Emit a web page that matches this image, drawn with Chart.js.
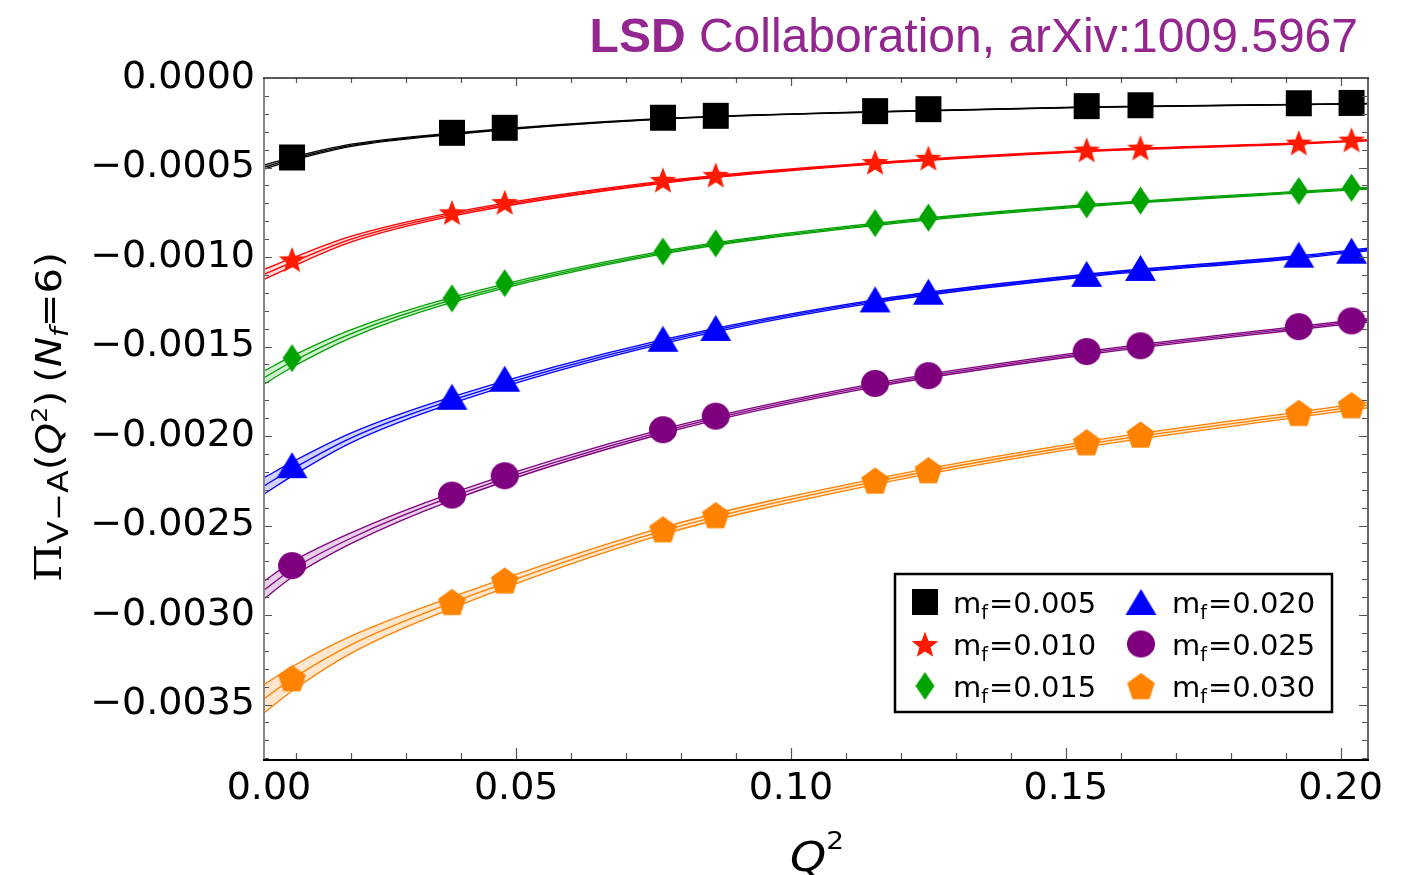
<!DOCTYPE html>
<html>
<head>
<meta charset="utf-8">
<script src="https://cdn.jsdelivr.net/npm/chart.js@4.4.1/dist/chart.umd.min.js"></script>
<style>
  html, body { margin: 0; padding: 0; background: #fff; }
  #wrap { position: relative; width: 1408px; height: 875px; }
</style>
</head>
<body>
<div id="wrap"><canvas id="chart"></canvas></div>
<script>
// Q^2 of the lattice data points (same for every mass)
const q2 = [0.0092, 0.0383, 0.0479, 0.0767, 0.0863, 0.1153, 0.1250, 0.1538, 0.1636, 0.1924, 0.2020]

// Pi_{V-A}(Q^2) data, one array per fermion mass
const mf005 = [-0.000444, -0.000306, -0.000278, -0.000222, -0.000211, -0.000185, -0.000174, -0.000157, -0.000152, -0.000141, -0.000139]
const mf010 = [-0.001013, -0.000750, -0.000693, -0.000569, -0.000541, -0.000469, -0.000446, -0.000400, -0.000389, -0.000361, -0.000344]
const mf015 = [-0.001565, -0.001231, -0.001146, -0.000969, -0.000924, -0.000811, -0.000780, -0.000706, -0.000685, -0.000631, -0.000613]
const mf020 = [-0.002163, -0.001781, -0.001680, -0.001457, -0.001396, -0.001237, -0.001194, -0.001094, -0.001061, -0.000987, -0.000965]
const mf025 = [-0.002724, -0.002330, -0.002222, -0.001965, -0.001889, -0.001706, -0.001663, -0.001528, -0.001496, -0.001389, -0.001357]
const mf030 = [-0.003352, -0.002926, -0.002806, -0.002520, -0.002441, -0.002248, -0.002190, -0.002034, -0.001991, -0.001870, -0.001827]

// fit curves at these Q^2 knots (centre and half width of the band)
const fitQ2 = [0.0041, 0.0092, 0.0200, 0.0383, 0.0767, 0.1153, 0.1537, 0.1924, 0.2050]
const fit005 = [-0.000498, -0.000452, -0.000376, -0.000312, -0.000228, -0.000189, -0.000163, -0.000148, -0.000143]
const fit010 = [-0.001097, -0.001030, -0.000900, -0.000762, -0.000582, -0.000477, -0.000408, -0.000366, -0.000348]
const fit015 = [-0.001674, -0.001585, -0.001428, -0.001240, -0.000975, -0.000818, -0.000713, -0.000638, -0.000616]
const fit020 = [-0.002279, -0.002185, -0.002010, -0.001800, -0.001473, -0.001247, -0.001104, -0.001000, -0.000958]
const fit025 = [-0.002860, -0.002746, -0.002570, -0.002339, -0.001974, -0.001716, -0.001537, -0.001396, -0.001354]
const fit030 = [-0.003468, -0.003357, -0.003165, -0.002931, -0.002530, -0.002255, -0.002046, -0.001880, -0.001827]
const hw005 = [0.000011, 0.000009, 0.000006, 0.000004, 0.000002, 0.000001, 0.000001, 0.000001, 0.000001]
const hw010 = [0.000028, 0.000024, 0.000016, 0.000010, 0.000006, 0.000004, 0.000003, 0.000003, 0.000003]
const hw015 = [0.000037, 0.000031, 0.000022, 0.000014, 0.000008, 0.000006, 0.000005, 0.000005, 0.000005]
const hw020 = [0.000046, 0.000039, 0.000027, 0.000018, 0.000011, 0.000008, 0.000007, 0.000007, 0.000007]
const hw025 = [0.000050, 0.000043, 0.000030, 0.000020, 0.000012, 0.000010, 0.000009, 0.000009, 0.000009]
const hw030 = [0.000080, 0.000068, 0.000048, 0.000032, 0.000020, 0.000016, 0.000015, 0.000015, 0.000015]

const massLabels = ['0.005', '0.010', '0.015', '0.020', '0.025', '0.030']

// tick labels
const yTickValues = [0, -0.0005, -0.0010, -0.0015, -0.0020, -0.0025, -0.0030, -0.0035]
const yTickLabels = ['0.0000', '\u22120.0005', '\u22120.0010', '\u22120.0015', '\u22120.0020', '\u22120.0025', '\u22120.0030', '\u22120.0035']
// the "0.00" label sits just inside the frame start, as in the original
const xTickValues = [0.005, 0.05, 0.10, 0.15, 0.20]
const xTickLabels = ['0.00', '0.05', '0.10', '0.15', '0.20']

const xMin = 0.0041, xMax = 0.205
const yMin = -0.00381, yMax = 0

// marker images, drawn once into small canvases
function makeMarker(shape, color, w, h) {
  const c = document.createElement('canvas')
  c.width = w + 4
  c.height = h + 4
  const g = c.getContext('2d')
  g.fillStyle = color
  g.translate(c.width / 2, c.height / 2)
  g.beginPath()
  if (shape === 'square') {
    g.rect(-w / 2, -h / 2, w, h)
  } else if (shape === 'circle') {
    g.ellipse(0, 0, w / 2, h / 2, 0, 0, Math.PI * 2)
  } else if (shape === 'diamond') {
    g.moveTo(0, -h / 2); g.lineTo(w / 2, 0); g.lineTo(0, h / 2); g.lineTo(-w / 2, 0)
  } else if (shape === 'triangle') {
    g.moveTo(0, -h / 2); g.lineTo(w / 2, h / 2); g.lineTo(-w / 2, h / 2)
  } else {
    const n = shape === 'star' ? 10 : 5
    for (let i = 0; i < n; i++) {
      const a = -Math.PI / 2 + i * 2 * Math.PI / n
      const r = (shape === 'star' && i % 2) ? 0.42 : 1
      g.lineTo(Math.cos(a) * r * w / 2, Math.sin(a) * r * h / 2 + 1.5)
    }
  }
  g.closePath()
  g.fill()
  return c
}

const series = [
  { pts: mf005, fit: fit005, hw: hw005, color: '#000000', band: 'rgba(0,0,0,0.15)', marker: makeMarker('square', '#000000', 26, 26) },
  { pts: mf010, fit: fit010, hw: hw010, color: '#ff0000', band: 'rgba(255,0,0,0.15)', marker: makeMarker('star', '#ff1a00', 28, 28) },
  { pts: mf015, fit: fit015, hw: hw015, color: '#00a000', band: 'rgba(0,160,0,0.18)', marker: makeMarker('diamond', '#00a300', 19, 28) },
  { pts: mf020, fit: fit020, hw: hw020, color: '#0000ff', band: 'rgba(0,0,255,0.18)', marker: makeMarker('triangle', '#0000ff', 31, 26) },
  { pts: mf025, fit: fit025, hw: hw025, color: '#800080', band: 'rgba(128,0,128,0.18)', marker: makeMarker('circle', '#7f007f', 28, 27) },
  { pts: mf030, fit: fit030, hw: hw030, color: '#ff8000', band: 'rgba(255,128,0,0.2)', marker: makeMarker('pentagon', '#ff8300', 29, 29) },
]

// build the datasets: data points on top, then centre line, then band edges with fill
const datasets = []
series.forEach(s => {
  datasets.push({
    data: q2.map((x, i) => ({ x, y: s.pts[i] })),
    showLine: false,
    pointStyle: s.marker,
    pointRadius: 14,
    order: 0,
  })
  const lineOpts = {
    showLine: true,
    borderColor: s.color,
    borderWidth: 1.3,
    pointRadius: 0,
    cubicInterpolationMode: 'monotone',
    order: 1,
  }
  const lowIdx = datasets.length
  datasets.push({ ...lineOpts, data: fitQ2.map((x, i) => ({ x, y: s.fit[i] - s.hw[i] })), fill: false })
  datasets.push({ ...lineOpts, data: fitQ2.map((x, i) => ({ x, y: s.fit[i] + s.hw[i] })), fill: lowIdx, backgroundColor: s.band })
  datasets.push({ ...lineOpts, data: fitQ2.map((x, i) => ({ x, y: s.fit[i] })), fill: false })
})

// rich text helper: pieces drawn one after another, stretched to a given length
function drawRich(ctx, parts, x, y, angle, length) {
  ctx.save()
  ctx.translate(x, y)
  ctx.rotate(angle)
  let total = 0
  parts.forEach(p => { ctx.font = p.font; p.w = ctx.measureText(p.t).width; total += p.w })
  ctx.scale(length / total, 1)
  ctx.fillStyle = '#000'
  ctx.textBaseline = 'alphabetic'
  ctx.textAlign = 'left'
  let pos = 0
  parts.forEach(p => { ctx.font = p.font; ctx.fillText(p.t, pos, p.dy || 0); pos += p.w })
  ctx.restore()
}

const SANS = '"DejaVu Sans"'

// frame, inward ticks, titles and legend
const decor = {
  id: 'decor',
  afterDraw(chart) {
    const ctx = chart.ctx
    const a = chart.chartArea
    const xs = chart.scales.x, ys = chart.scales.y
    ctx.save()

    // minor/major ticks on all four sides
    ctx.lineWidth = 1.2
    ctx.strokeStyle = '#555'
    ctx.beginPath()
    for (let k = 1; k <= 20; k++) {
      const px = Math.round(xs.getPixelForValue(k / 100)) + 0.5
      const major = k % 5 === 0
      ctx.moveTo(px, a.bottom); ctx.lineTo(px, a.bottom - (major ? 12 : 7))
      ctx.moveTo(px, a.top); ctx.lineTo(px, a.top + (major ? 8 : 5))
    }
    for (let k = 1; k <= 38; k++) {
      const py = Math.round(ys.getPixelForValue(-k / 10000)) + 0.5
      const major = k % 5 === 0
      ctx.moveTo(a.left, py); ctx.lineTo(a.left + (major ? 8 : 5), py)
      ctx.moveTo(a.right, py); ctx.lineTo(a.right - (major ? 9 : 6), py)
    }
    ctx.stroke()

    // frame
    ctx.lineWidth = 2
    ctx.strokeStyle = '#888'
    ctx.beginPath(); ctx.moveTo(a.left, a.top); ctx.lineTo(a.left, a.bottom); ctx.stroke()
    ctx.strokeStyle = '#666'
    ctx.beginPath(); ctx.moveTo(a.right, a.top); ctx.lineTo(a.right, a.bottom); ctx.stroke()
    ctx.strokeStyle = '#000'
    ctx.beginPath(); ctx.moveTo(a.left - 1, a.bottom); ctx.lineTo(a.right + 1, a.bottom); ctx.stroke()
    ctx.lineWidth = 1.5
    ctx.strokeStyle = '#222'
    ctx.beginPath(); ctx.moveTo(a.left - 1, a.top); ctx.lineTo(a.right + 1, a.top); ctx.stroke()

    // title
    ctx.fillStyle = '#93278f'
    ctx.textBaseline = 'alphabetic'
    ctx.textAlign = 'left'
    ctx.font = 'bold 48px "Liberation Sans"'
    const wBold = ctx.measureText('LSD').width
    ctx.font = '48px "Liberation Sans"'
    const wRest = ctx.measureText(' Collaboration, arXiv:1009.5967').width
    const tx = 1358 - wBold - wRest
    ctx.font = 'bold 48px "Liberation Sans"'
    ctx.fillText('LSD', tx, 52)
    ctx.font = '48px "Liberation Sans"'
    ctx.fillText(' Collaboration, arXiv:1009.5967', tx + wBold, 52)

    // y axis title: Pi_{V-A}(Q^2) (N_f=6)
    drawRich(ctx, [
      { t: '\u03a0', font: '38px "DejaVu Serif"' },
      { t: 'V\u2212A', font: `29px ${SANS}`, dy: 7 },
      { t: '(', font: `35px ${SANS}` },
      { t: 'Q', font: `italic 35px ${SANS}` },
      { t: '2', font: `22px ${SANS}`, dy: -14 },
      { t: ')\u2009(', font: `35px ${SANS}` },
      { t: 'N', font: `italic 35px ${SANS}` },
      { t: 'f', font: `italic 24px ${SANS}`, dy: 7 },
      { t: '=6)', font: `35px ${SANS}` },
    ], 61, 582, -Math.PI / 2, 330)

    // x axis title: Q^2
    drawRich(ctx, [
      { t: 'Q', font: `italic 41px ${SANS}` },
      { t: '2', font: `25px ${SANS}`, dy: -22 },
    ], 790, 871, 0, 54)

    // legend box
    const lx = 895, ly = 574, lw = 437, lh = 138
    ctx.fillStyle = '#fff'
    ctx.fillRect(lx, ly, lw, lh)
    ctx.lineWidth = 2.5
    ctx.strokeStyle = '#000'
    ctx.strokeRect(lx, ly, lw, lh)
    const rowY = [602, 644, 686]
    const colMarker = [925, 1141]
    const colText = [953, 1172]
    series.forEach((s, i) => {
      const col = Math.floor(i / 3), row = i % 3
      const m = s.marker
      ctx.drawImage(m, colMarker[col] - m.width / 2, rowY[row] - m.height / 2)
      const base = rowY[row] + 11
      let x = colText[col]
      ctx.fillStyle = '#000'
      ctx.font = `29px ${SANS}`
      ctx.fillText('m', x, base); x += ctx.measureText('m').width
      ctx.font = `19px ${SANS}`
      ctx.fillText('f', x, base + 6); x += ctx.measureText('f').width + 1
      ctx.font = `29px ${SANS}`
      ctx.fillText('=' + massLabels[i], x, base)
    })

    ctx.restore()
  }
}

const canvas = document.getElementById('chart')
new Chart(canvas.getContext('2d'), {
  type: 'scatter',
  data: { datasets },
  options: {
    responsive: true,
    maintainAspectRatio: false,
    animation: false,
    layout: { padding: { left: 0, right: 40, top: 78, bottom: 0 } },
    plugins: {
      legend: { display: false },
      tooltip: { enabled: false },
    },
    scales: {
      x: {
        type: 'linear',
        min: xMin,
        max: xMax,
        grid: { display: false, drawTicks: false },
        border: { display: false },
        afterBuildTicks: s => { s.ticks = xTickValues.map(v => ({ value: v })) },
        afterFit: s => { s.height = 115 },
        ticks: {
          autoSkip: false,
          maxRotation: 0,
          padding: 6,
          color: '#000',
          font: { family: 'DejaVu Sans', size: 38 },
          callback: (v, i) => xTickLabels[i],
        },
      },
      y: {
        type: 'linear',
        min: yMin,
        max: yMax,
        grid: { display: false, drawTicks: false },
        border: { display: false },
        afterBuildTicks: s => { s.ticks = yTickValues.map(v => ({ value: v })) },
        afterFit: s => { s.width = 264 },
        ticks: {
          autoSkip: false,
          padding: 9,
          color: '#000',
          font: { family: 'DejaVu Sans', size: 38 },
          callback: (v, i) => yTickLabels[i],
        },
      },
    },
  },
  plugins: [decor],
})
</script>
</body>
</html>
